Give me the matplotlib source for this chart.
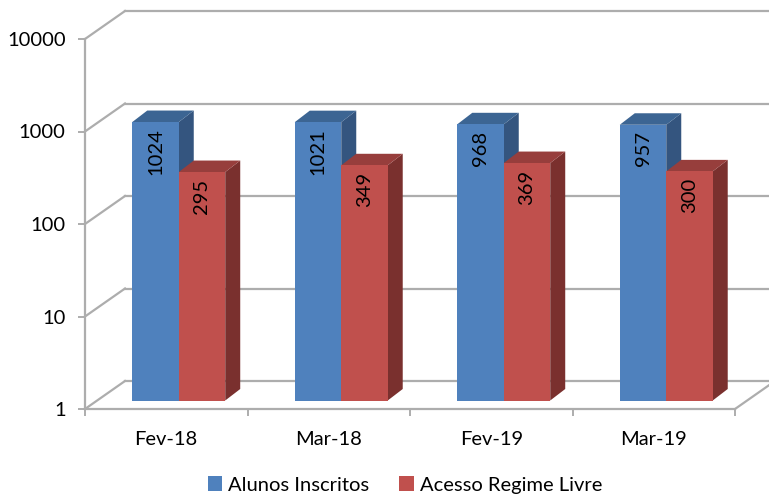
import matplotlib
matplotlib.use("Agg")
import numpy as np
import matplotlib.pyplot as plt
from matplotlib.patches import Polygon, Rectangle
from matplotlib.transforms import Affine2D

months = ["Fev-18", "Mar-18", "Fev-19", "Mar-19"]
inscritos = [1024, 1021, 968, 957]
regime_livre = [295, 349, 369, 300]
y_ticks = [1, 10, 100, 1000, 10000]

plt.rcParams["font.family"] = ["Lato", "DejaVu Sans"]

GRID = "#adadad"
BAR_W = 0.286
LW = 1.6


def shifted(ax, dx, dy):
    # data coords, then a pixel offset for the fake 3d depth
    return ax.transData + Affine2D().translate(dx, dy)


def draw_walls(ax):
    back = shifted(ax, 40, 28)
    for v in y_ticks:
        ax.plot([0, 4.2], [v, v], color=GRID, lw=LW, transform=back,
                clip_on=False, zorder=1)
        x0, y0 = ax.transData.transform((0, v))
        ax.plot([x0, x0 + 40], [y0, y0 + 28], color=GRID, lw=LW,
                transform=None, clip_on=False, zorder=1)
    x1, y1 = ax.transData.transform((4, 1))
    ax.plot([x1, x1 + 40], [y1, y1 + 28], color=GRID, lw=LW,
            transform=None, clip_on=False, zorder=1)


def draw_bar(ax, x, value, front, top, side):
    tr = shifted(ax, 12.5, 8.5)
    px0, py0 = tr.transform((x, 1))
    px1, py1 = tr.transform((x + BAR_W, value))
    dx, dy = 15, 11.5
    ax.add_patch(Polygon([(px1, py0), (px1 + dx, py0 + dy), (px1 + dx, py1 + dy), (px1, py1)],
                         closed=True, fc=side, ec="none", transform=None,
                         clip_on=False, zorder=3))
    ax.add_patch(Polygon([(px0, py1), (px0 + dx, py1 + dy), (px1 + dx, py1 + dy), (px1, py1)],
                         closed=True, fc=top, ec="none", transform=None,
                         clip_on=False, zorder=3))
    ax.add_patch(Rectangle((x, 1), BAR_W, value - 1, fc=front, ec="none",
                           transform=tr, clip_on=False, zorder=4))
    ax.text(x + BAR_W / 2, value, str(value), rotation=90, ha="center", va="top",
            fontsize=14.5, color="black", transform=shifted(ax, 12.5, 2),
            clip_on=False, zorder=5)


fig = plt.figure(figsize=(7.69, 4.97), dpi=100)
ax = fig.add_axes([85 / 769, 1 - 409 / 497, 650 / 769, 370 / 497])
ax.set_yscale("log")
ax.set_xlim(0, 4)
ax.set_ylim(1, 10000)
ax.patch.set_visible(False)
for name in ["top", "right"]:
    ax.spines[name].set_visible(False)
for name in ["left", "bottom"]:
    ax.spines[name].set_color(GRID)
    ax.spines[name].set_linewidth(LW)

ax.set_yticks(y_ticks)
ax.set_yticklabels([str(v) for v in y_ticks])
ax.minorticks_off()
ax.set_xticks(range(5))
ax.set_xticklabels([])
ax.set_xticks(np.arange(4) + 0.5, months, minor=True)
ax.tick_params(axis="both", which="major", length=5, width=1.4, color=GRID,
               labelsize=14.5, pad=9)
ax.tick_params(axis="x", which="minor", length=0, labelsize=14.5, pad=16)

draw_walls(ax)

for i in range(len(months)):
    left = i + 0.5 - BAR_W
    draw_bar(ax, left, inscritos[i], "#4f81bd", "#3c6593", "#34557f")
    draw_bar(ax, left + BAR_W, regime_livre[i], "#c0504d", "#973e3c", "#7a302e")

handles = [Rectangle((0, 0), 1, 1, fc="#4f81bd"), Rectangle((0, 0), 1, 1, fc="#c0504d")]
fig.legend(handles, ["Alunos Inscritos", "Acesso Regime Livre"], loc="center",
           bbox_to_anchor=(405 / 769, 1 - 485 / 497), ncol=2, frameon=False,
           fontsize=14.5, handlelength=0.72, handleheight=0.72,
           handletextpad=0.3, columnspacing=1.5)

fig.savefig("out.png", dpi=100)
